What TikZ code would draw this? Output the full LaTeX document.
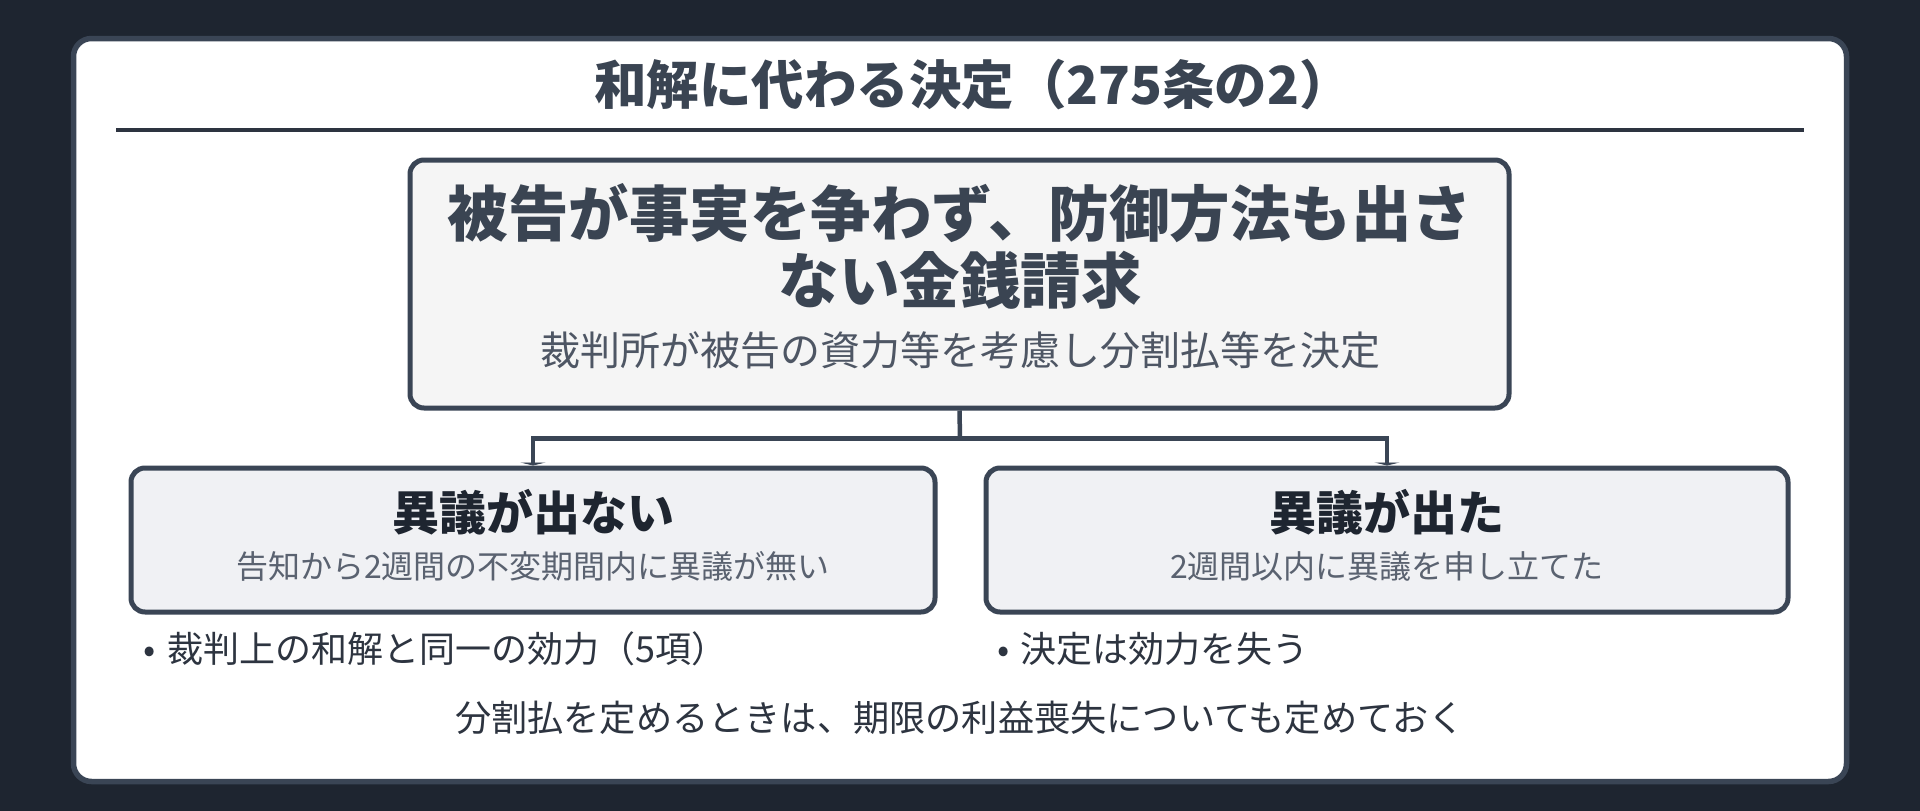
\documentclass[tikz,border=0pt]{standalone}
\usepackage{fontspec}
\setmainfont{Noto Sans CJK JP}
\usetikzlibrary{arrows.meta}
\definecolor{bg}{HTML}{1E2530}
\definecolor{edge}{HTML}{3A4555}
\definecolor{rule}{HTML}{2D3440}
\definecolor{ttl}{HTML}{3A4452}
\definecolor{sub}{HTML}{4E5664}
\definecolor{boxtxt}{HTML}{1E2530}
\definecolor{subtxt}{HTML}{5A6270}
\definecolor{mainfill}{HTML}{F5F5F5}
\definecolor{brfill}{HTML}{F0F1F4}
\definecolor{body}{HTML}{2D3440}
\tikzset{
  card/.style={draw=edge, line width=5.5pt, fill=white, rounded corners=18pt, inner sep=0pt},
  mainbox/.style={draw=edge, line width=5pt, fill=mainfill, rounded corners=14pt, inner sep=0pt},
  branchbox/.style={draw=edge, line width=5pt, fill=brfill, rounded corners=14pt, inner sep=0pt},
  txt/.style={inner sep=0pt, anchor=center},
  conn/.style={draw=edge, line width=4.5pt},
  tip/.style={-{Triangle[length=3pt,width=25pt]}}
}
\begin{document}
\begin{tikzpicture}[x=1pt,y=-1pt]
\useasboundingbox (0,0) rectangle (1920,811);
\fill[bg] (0,0) rectangle (1920,811);
\node[card, minimum width=1773pt, minimum height=743pt] (card) at (960,410) {};
\node[txt, text=ttl, font=\fontsize{52.5}{58}\selectfont\bfseries] (title) at (973,85) {和解に代わる決定（275条の2）};
\coordinate (rl) at (116,130);
\coordinate (rr) at (1804,130);
\draw[draw=rule, line width=3.3pt] (rl) -- (rr);
\node[mainbox, minimum width=1099pt, minimum height=248pt] (main) at (959.5,284) {};
\node[txt, text=ttl, font=\fontsize{60.5}{66}\selectfont\bfseries] (m1) at (960,213) {被告が事実を争わず、防御方法も出さ};
\node[txt, text=ttl, font=\fontsize{60.5}{66}\selectfont\bfseries] (m2) at (960,280) {ない金銭請求};
\node[txt, text=sub, font=\fontsize{40}{44}\selectfont] (m3) at (960,350) {裁判所が被告の資力等を考慮し分割払等を決定};
\node[branchbox, minimum width=804pt, minimum height=144pt] (left) at (533,540) {};
\node[branchbox, minimum width=802pt, minimum height=144pt] (right) at (1387,540) {};
\node[txt, text=boxtxt, font=\fontsize{47}{52}\selectfont\bfseries] (lt) at (533,512) {異議が出ない};
\node[txt, text=subtxt, font=\fontsize{32}{36}\selectfont] (ls) at (533,566) {告知から2週間の不変期間内に異議が無い};
\node[txt, text=boxtxt, font=\fontsize{47}{52}\selectfont\bfseries] (rt) at (1387,512) {異議が出た};
\node[txt, text=subtxt, font=\fontsize{32}{36}\selectfont] (rs) at (1387,566) {2週間以内に異議を申し立てた};
\coordinate (j) at (960,438.5);
\draw[conn] (main.south) -- (j);
\draw[conn, tip] (j) -| (left.north);
\draw[conn, tip] (j) -| (right.north);
\node[txt, anchor=west, text=body, font=\fontsize{36}{40}\selectfont] (b1) at (143,649) {•\hspace{12pt}裁判上の和解と同一の効力（5項）};
\node[txt, anchor=west, text=body, font=\fontsize{36}{40}\selectfont] (b2) at (997,649) {•\hspace{11pt}決定は効力を失う};
\node[txt, text=body, font=\fontsize{36.2}{40}\selectfont] (foot) at (960,718) {分割払を定めるときは、期限の利益喪失についても定めておく};
\end{tikzpicture}
\end{document}
